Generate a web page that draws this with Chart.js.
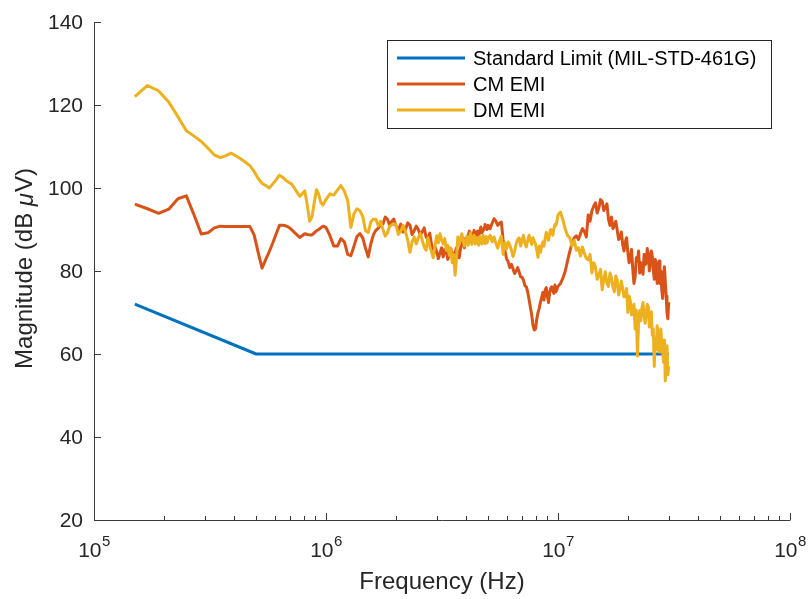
<!DOCTYPE html>
<html>
<head>
<meta charset="utf-8">
<script src="https://cdn.jsdelivr.net/npm/chart.js@4/dist/chart.umd.min.js"></script>
<style>
  html, body { margin: 0; padding: 0; background: #ffffff; }
  #wrap { width: 808px; height: 599px; }
</style>
</head>
<body>
<div id="wrap"><canvas id="emi" width="808" height="599"></canvas></div>
<script>
// Measured conducted emission spectrum (frequency in Hz, level in dB µV)
const freqHz = [
  150000, 170000, 190000, 210000, 230000, 250000, 270000, 290000, 310000, 330000,
  350000, 370000, 390000, 410000, 430000, 450000, 470000, 490000,
  510000, 530000, 550000, 570000, 590000, 610000, 630000, 650000, 670000, 690000,
  710000, 730000, 750000, 770000, 790000, 810000, 830000, 850000, 870000, 890000,
  910000, 930000, 950000, 970000, 990000,
  1.00e6, 1.04e6, 1.08e6, 1.12e6, 1.16e6, 1.20e6, 1.24e6, 1.28e6, 1.32e6, 1.36e6,
  1.40e6, 1.44e6, 1.48e6, 1.52e6, 1.56e6, 1.60e6, 1.64e6, 1.68e6, 1.72e6, 1.76e6,
  1.80e6, 1.84e6, 1.88e6, 1.92e6, 1.96e6, 2.00e6,
  2.05e6, 2.10e6, 2.15e6, 2.20e6, 2.25e6, 2.30e6, 2.35e6, 2.40e6, 2.45e6, 2.50e6,
  2.55e6, 2.60e6, 2.65e6, 2.70e6, 2.75e6, 2.80e6, 2.85e6, 2.90e6, 2.95e6, 3.00e6,
  3.05e6, 3.10e6, 3.15e6, 3.20e6, 3.25e6, 3.30e6, 3.35e6, 3.40e6, 3.45e6, 3.50e6,
  3.55e6, 3.60e6, 3.65e6, 3.70e6, 3.75e6, 3.80e6, 3.85e6, 3.90e6, 3.95e6, 4.00e6,
  4.05e6, 4.10e6, 4.15e6, 4.20e6, 4.25e6, 4.30e6, 4.35e6, 4.40e6, 4.45e6, 4.50e6,
  4.55e6, 4.60e6, 4.65e6, 4.70e6, 4.75e6, 4.80e6, 4.85e6, 4.90e6, 4.95e6, 5.00e6,
  5.1e6, 5.2e6, 5.3e6, 5.4e6, 5.5e6, 5.6e6, 5.7e6, 5.8e6, 5.9e6, 6.0e6,
  6.1e6, 6.2e6, 6.3e6, 6.4e6, 6.5e6, 6.6e6, 6.7e6, 6.8e6, 6.9e6, 7.0e6,
  7.1e6, 7.2e6, 7.3e6, 7.4e6, 7.5e6, 7.6e6, 7.7e6, 7.8e6, 7.9e6, 8.0e6,
  8.1e6, 8.2e6, 8.3e6, 8.4e6, 8.5e6, 8.6e6, 8.7e6, 8.8e6, 8.9e6, 9.0e6,
  9.1e6, 9.2e6, 9.3e6, 9.4e6, 9.5e6, 9.6e6, 9.7e6, 9.8e6, 9.9e6, 10.0e6,
  10.25e6, 10.5e6, 10.75e6, 11.0e6, 11.25e6, 11.5e6, 11.75e6, 12.0e6, 12.25e6, 12.5e6,
  12.75e6, 13.0e6, 13.25e6, 13.5e6, 13.75e6, 14.0e6, 14.25e6, 14.5e6, 14.75e6, 15.0e6,
  15.25e6, 15.5e6, 15.75e6, 16.0e6, 16.25e6, 16.5e6, 16.75e6, 17.0e6, 17.25e6, 17.5e6,
  17.75e6, 18.0e6, 18.25e6, 18.5e6, 18.75e6, 19.0e6, 19.25e6, 19.5e6, 19.75e6, 20.0e6,
  20.25e6, 20.5e6, 20.75e6, 21.0e6, 21.25e6, 21.5e6, 21.75e6, 22.0e6, 22.25e6, 22.5e6,
  22.75e6, 23.0e6, 23.25e6, 23.5e6, 23.75e6, 24.0e6, 24.25e6, 24.5e6, 24.75e6, 25.0e6,
  25.25e6, 25.5e6, 25.75e6, 26.0e6, 26.25e6, 26.5e6, 26.75e6, 27.0e6, 27.25e6, 27.5e6,
  27.75e6, 28.0e6, 28.25e6, 28.5e6, 28.75e6, 29.0e6, 29.25e6, 29.5e6, 29.75e6, 30.0e6
];

const cmEmi = [
  96.1, 95.0, 93.9, 94.9, 97.4, 98.1, 93.5, 88.9, 89.2, 90.4,
  90.8, 90.7, 90.7, 90.7, 90.7, 90.7, 90.7, 88.7,
  84.5, 80.7, 82.8, 84.7, 86.8, 89.0, 91.0, 91.0, 90.9, 90.6,
  90.0, 89.3, 88.7, 88.1, 88.5, 89.0, 88.8, 88.7, 88.7, 89.2,
  89.7, 90.0, 90.4, 90.8, 90.6,
  90.5, 88.5, 86.0, 86.0, 87.8, 87.0, 84.0, 83.7, 86.0, 88.3,
  89.0, 88.0, 85.5, 83.4, 86.5, 88.7, 89.8, 90.3, 91.2, 91.3,
  93.0, 92.5, 91.0, 92.0, 92.5, 91.0,
  89.8, 91.3, 89.4, 90.0, 91.6, 91.0, 88.8, 89.7, 90.8, 90.0,
  88.6, 89.5, 90.4, 88.2, 87.6, 89.1, 86.4, 83.5, 85.8, 84.7,
  83.0, 84.3, 85.6, 83.4, 85.2, 84.7, 82.8, 84.0, 85.4, 84.2,
  83.0, 84.5, 85.6, 84.3, 83.2, 85.5, 86.8, 86.5, 85.6, 87.9,
  87.0, 88.6, 89.6, 89.0, 87.8, 88.7, 89.8, 88.4, 89.0, 89.6,
  88.4, 89.6, 90.6, 89.2, 89.8, 90.0, 91.2, 90.2, 90.0, 91.0,
  90.2, 91.5, 92.6, 92.0, 91.0, 91.5, 91.8, 87.5, 85.0, 83.0,
  82.2, 80.8, 81.6, 80.5, 79.4, 80.0, 80.8, 79.8, 78.6, 78.5,
  77.8, 76.5, 76.2, 75.0, 73.2, 71.3, 69.5, 67.0, 65.8, 66.0,
  68.4, 70.0, 71.0, 72.5, 73.5, 74.8, 73.0, 75.4, 76.0, 73.9,
  72.4, 74.8, 75.8, 76.2, 75.2, 74.6, 76.6, 75.0, 75.6, 76.3,
  77.0, 78.3, 80.0, 82.5, 84.8, 86.7, 88.0, 88.5, 87.6, 89.0,
  90.2, 89.5, 88.2, 93.5, 92.0, 94.5, 95.6, 96.4, 94.0, 95.2,
  97.2, 96.8, 94.6, 95.3, 96.2, 92.5, 91.0, 93.0, 90.2, 91.0,
  92.0, 89.8, 87.6, 88.0, 89.4, 86.4, 84.8, 87.0, 88.0, 84.5,
  82.0, 83.0, 85.2, 80.5, 77.0, 78.6, 83.2, 82.5, 84.8, 79.5,
  82.0, 81.5, 79.2, 84.0, 81.5, 82.0, 85.4, 84.0, 80.0, 82.0,
  84.8, 83.5, 80.2, 78.0, 82.8, 81.5, 77.0, 79.5, 82.4, 77.0,
  80.0, 75.5, 73.4, 79.0, 81.0, 77.5, 74.0, 70.0, 68.5, 72.5
];

const dmEmi = [
  122.0, 124.7, 123.4, 120.7, 117.2, 113.8, 112.5, 111.2, 109.6, 108.0,
  107.3, 107.8, 108.4, 107.7, 107.0, 106.2, 105.4, 104.0,
  102.3, 101.1, 100.6, 100.0, 101.0, 102.0, 103.1, 102.6, 101.9, 101.4,
  101.0, 100.0, 99.0, 98.0, 98.6, 99.3, 96.0, 92.0, 93.0, 96.5,
  99.6, 98.5, 96.5, 95.9, 96.8,
  97.2, 98.6, 98.3, 99.5, 100.6, 99.2, 97.0, 90.5, 93.8, 95.0,
  94.5, 93.2, 89.7, 89.3, 91.8, 92.5, 92.5, 90.9, 92.0, 90.0,
  88.4, 89.2, 90.8, 91.1, 91.3, 91.3,
  88.8, 89.6, 91.0, 89.5, 87.5, 84.5, 87.0, 88.2, 86.5, 88.0,
  89.0, 87.4, 85.8, 85.0, 88.0, 86.0, 84.6, 83.2, 86.0, 88.5,
  86.8, 89.0, 87.5, 86.5, 87.8, 85.0, 86.2, 83.8, 85.6, 82.0,
  84.0, 79.0, 83.0, 88.2, 86.4, 87.6, 89.0, 87.5, 86.0, 87.0,
  88.4, 86.2, 87.8, 89.2, 86.4, 87.5, 88.6, 86.5, 88.0, 87.2,
  86.2, 88.3, 87.6, 86.5, 88.6, 87.2, 86.6, 88.3, 86.8, 87.8,
  88.6, 87.0, 88.2, 86.7, 85.5, 87.3, 88.4, 84.0, 86.8, 85.3,
  87.0, 86.2, 85.0, 83.5, 84.8, 86.5, 87.6, 88.0, 86.0, 87.4,
  88.6, 86.7, 85.8, 87.3, 88.6, 87.5, 86.4, 88.0, 87.2, 86.5,
  85.0, 83.3, 86.0, 84.5, 85.8, 87.0, 86.0, 87.8, 89.3, 88.3,
  87.4, 89.0, 90.0, 89.6, 88.6, 90.2, 91.2, 91.0, 92.0, 93.5,
  94.2, 92.3, 90.0, 88.5, 88.0, 86.0, 87.4, 85.0, 85.6, 83.6,
  85.8, 84.2, 83.0, 82.7, 84.0, 79.5, 82.0, 81.0, 78.0, 79.0,
  80.4, 75.5, 78.0, 79.8, 77.0, 76.3, 79.5, 78.4, 76.0, 75.0,
  78.8, 77.8, 74.2, 75.6, 77.6, 75.8, 73.8, 74.0, 75.8, 70.0,
  74.0, 72.8, 69.4, 70.0, 72.0, 66.0, 70.6, 59.5, 67.5, 70.5,
  68.0, 71.2, 72.4, 69.5, 67.4, 69.8, 72.0, 71.4, 66.5, 69.0,
  70.2, 64.5, 66.0, 57.0, 63.8, 61.0, 66.8, 65.0, 60.5, 63.5,
  66.0, 62.6, 60.8, 58.0, 63.4, 53.5, 59.0, 62.0, 55.0, 57.0
];

// MIL-STD-461G CE102 limit (basic curve)
const limitFreqHz = [150000, 500000, 30000000];
const limitDb = [72, 60, 60];

// Axis ranges and ticks
const xDecades = [5, 6, 7, 8];
const xMinorSteps = [2, 3, 4, 5, 6, 7, 8, 9];
const yTickValues = [20, 40, 60, 80, 100, 120, 140];

const seriesLabels = ['Standard Limit (MIL-STD-461G)', 'CM EMI', 'DM EMI'];
const seriesColors = ['#0072BD', '#D95319', '#EDB120'];

const AXIS_COLOR = '#3a3a3a';
const TEXT_COLOR = '#262626';
const FONT = '"Liberation Sans", Arial, Helvetica, sans-serif';

const toPoints = (xs, ys) => xs.map((f, i) => ({ x: f, y: ys[i] }));

const axesPlugin = {
  id: 'axesPlugin',
  afterDatasetsDraw(chart) {
    const { ctx, chartArea: a, scales: { x, y } } = chart;
    ctx.save();
    ctx.strokeStyle = AXIS_COLOR;
    ctx.lineWidth = 1;

    // axis lines (left and bottom only)
    ctx.beginPath();
    ctx.moveTo(a.left + 0.5, a.top);
    ctx.lineTo(a.left + 0.5, a.bottom + 0.5);
    ctx.lineTo(a.right + 0.5, a.bottom + 0.5);
    ctx.stroke();

    // y ticks (pointing inward) and labels
    ctx.fillStyle = TEXT_COLOR;
    ctx.font = '21px ' + FONT;
    ctx.textAlign = 'right';
    ctx.textBaseline = 'middle';
    y.ticks.forEach(t => {
      const py = Math.round(y.getPixelForValue(t.value)) + 0.5;
      ctx.beginPath();
      ctx.moveTo(a.left, py);
      ctx.lineTo(a.left + 7, py);
      ctx.stroke();
      ctx.fillText(String(t.value), a.left - 11, py + 1);
    });

    // x ticks (major decades + minor) pointing inward
    x.ticks.forEach(t => {
      const px = Math.round(x.getPixelForValue(t.value)) + 0.5;
      const len = t.major ? 7 : 4;
      ctx.beginPath();
      ctx.moveTo(px, a.bottom);
      ctx.lineTo(px, a.bottom - len);
      ctx.stroke();
    });

    // x decade labels: 10 with superscript exponent
    x.ticks.filter(t => t.major).forEach(t => {
      const px = x.getPixelForValue(t.value);
      const exp = String(Math.round(Math.log10(t.value)));
      ctx.font = '21px ' + FONT;
      const wBase = ctx.measureText('10').width;
      ctx.font = '15px ' + FONT;
      const wExp = ctx.measureText(exp).width;
      const startX = px - (wBase + wExp) / 2;
      ctx.textAlign = 'left';
      ctx.textBaseline = 'alphabetic';
      ctx.font = '21px ' + FONT;
      ctx.fillText('10', startX, a.bottom + 37);
      ctx.font = '15px ' + FONT;
      ctx.fillText(exp, startX + wBase + 0.5, a.bottom + 26);
    });

    // axis titles
    ctx.font = '24px ' + FONT;
    ctx.textAlign = 'center';
    ctx.textBaseline = 'middle';
    ctx.fillText('Frequency (Hz)', (a.left + a.right) / 2, 582);

    ctx.save();
    ctx.translate(25, 269);
    ctx.rotate(-Math.PI / 2);
    const p1 = 'Magnitude (dB ', p2 = '\u03BC', p3 = 'V)';
    ctx.font = '24px ' + FONT;
    const w1 = ctx.measureText(p1).width, w3 = ctx.measureText(p3).width;
    ctx.font = 'italic 24px ' + FONT;
    const w2 = ctx.measureText(p2).width;
    const sx = -(w1 + w2 + w3) / 2;
    ctx.textAlign = 'left';
    ctx.font = '24px ' + FONT;
    ctx.fillText(p1, sx, 0);
    ctx.font = 'italic 24px ' + FONT;
    ctx.fillText(p2, sx + w1, 1);
    ctx.font = '24px ' + FONT;
    ctx.fillText(p3, sx + w1 + w2 + 1, 0);
    ctx.restore();

    // legend box
    const lx = 387.5, ly = 40.5, lw = 384, lh = 88;
    ctx.fillStyle = '#ffffff';
    ctx.fillRect(lx, ly, lw, lh);
    ctx.strokeStyle = TEXT_COLOR;
    ctx.lineWidth = 1;
    ctx.strokeRect(lx, ly, lw, lh);
    ctx.font = '20px ' + FONT;
    ctx.textAlign = 'left';
    ctx.textBaseline = 'middle';
    seriesLabels.forEach((lab, i) => {
      const ry = 58 + i * 26;
      ctx.strokeStyle = seriesColors[i];
      ctx.lineWidth = 3;
      ctx.beginPath();
      ctx.moveTo(397, ry);
      ctx.lineTo(465, ry);
      ctx.stroke();
      ctx.fillStyle = '#000000';
      ctx.fillText(lab, 473, ry + 1);
    });
    ctx.restore();
  }
};

new Chart(document.getElementById('emi'), {
  type: 'line',
  data: {
    datasets: [
      { label: seriesLabels[0], data: toPoints(limitFreqHz, limitDb), borderColor: seriesColors[0], order: 3 },
      { label: seriesLabels[1], data: toPoints(freqHz, cmEmi), borderColor: seriesColors[1], order: 2 },
      { label: seriesLabels[2], data: toPoints(freqHz, dmEmi), borderColor: seriesColors[2], order: 1 }
    ]
  },
  options: {
    responsive: false,
    devicePixelRatio: 1,
    animation: false,
    events: [],
    layout: { padding: { left: 0, right: 18, top: 22, bottom: 0 } },
    elements: {
      point: { radius: 0 },
      line: { borderWidth: 3, tension: 0, fill: false, borderJoinStyle: 'round', borderCapStyle: 'butt' }
    },
    plugins: { legend: { display: false }, tooltip: { enabled: false } },
    scales: {
      x: {
        type: 'logarithmic',
        min: Math.pow(10, xDecades[0]),
        max: Math.pow(10, xDecades[xDecades.length - 1]),
        grid: { display: false },
        border: { display: false },
        ticks: { display: false },
        afterBuildTicks(scale) {
          const ticks = [];
          xDecades.forEach((d, i) => {
            ticks.push({ value: Math.pow(10, d), major: true });
            if (i < xDecades.length - 1) {
              xMinorSteps.forEach(m => ticks.push({ value: m * Math.pow(10, d), major: false }));
            }
          });
          scale.ticks = ticks;
        },
        afterFit(scale) { scale.height = 79; }
      },
      y: {
        type: 'linear',
        min: yTickValues[0],
        max: yTickValues[yTickValues.length - 1],
        grid: { display: false },
        border: { display: false },
        ticks: { display: false },
        afterBuildTicks(scale) { scale.ticks = yTickValues.map(v => ({ value: v })); },
        afterFit(scale) { scale.width = 94; }
      }
    }
  },
  plugins: [axesPlugin]
});
</script>
</body>
</html>
